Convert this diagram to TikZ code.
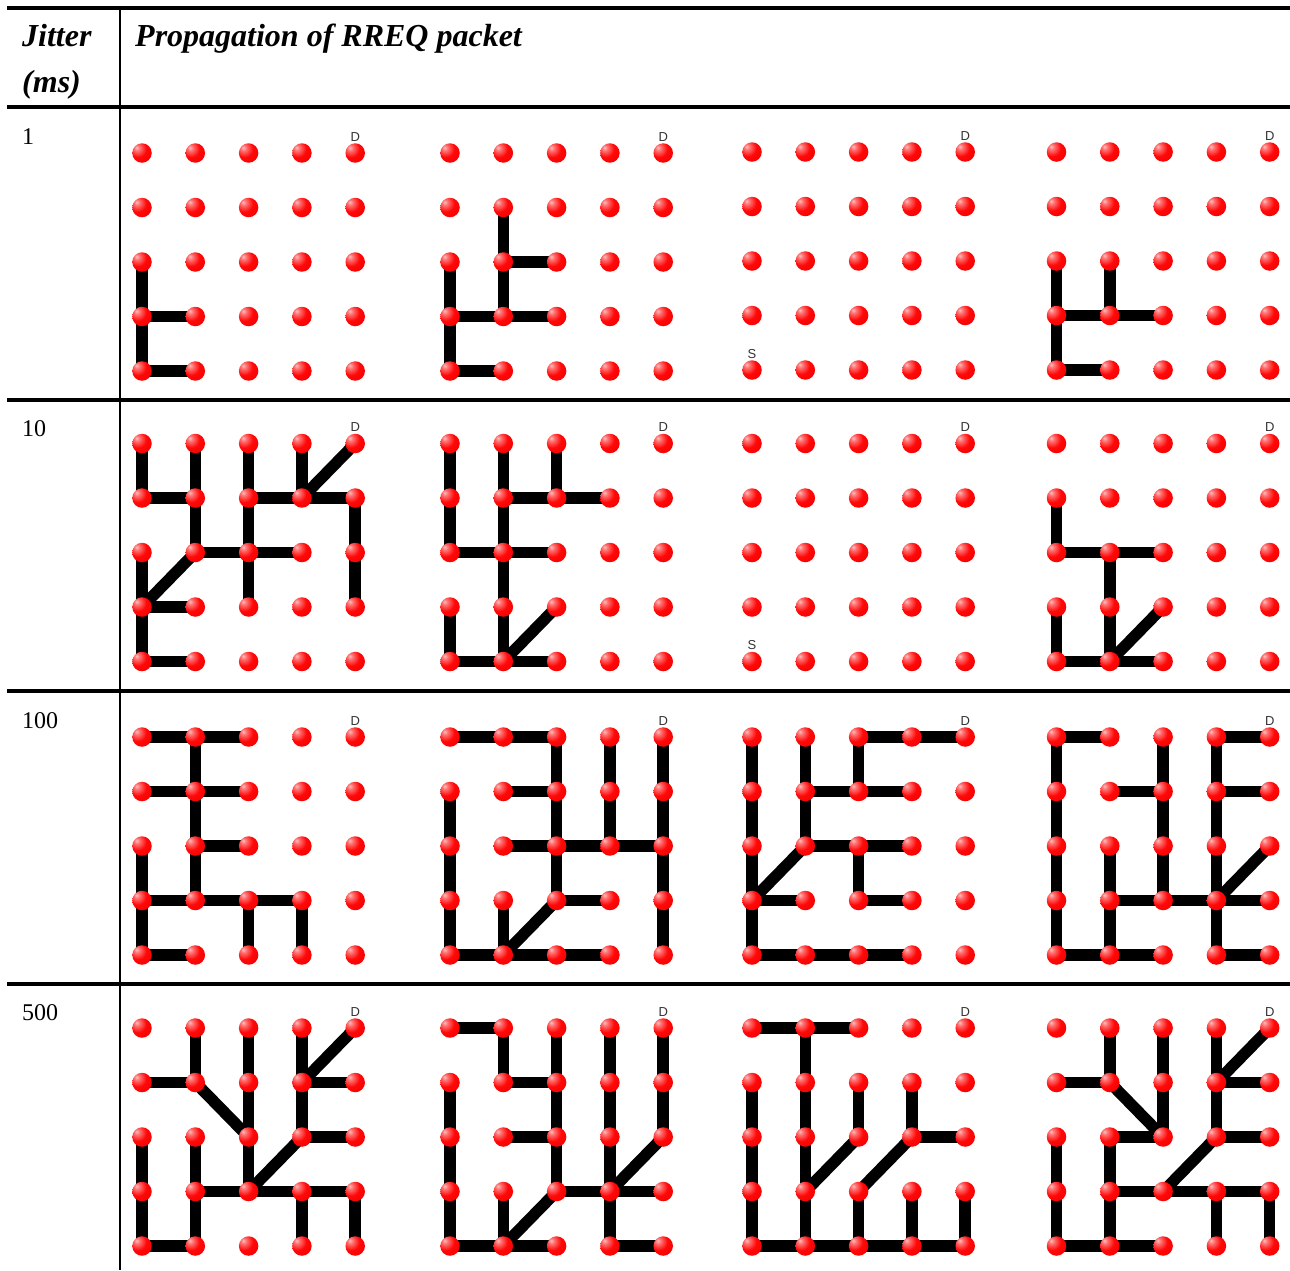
\documentclass[tikz,border=0pt]{standalone}
\usepackage{fontspec}
\setmainfont{Liberation Serif}
\newfontfamily\lsans{Liberation Sans}
\pgfdeclarelayer{bg}
\pgfsetlayers{bg,main}
\pgfdeclareradialshading{redball}{\pgfpoint{-14bp}{14bp}}{%
  color(0bp)=(white!75!red); color(7bp)=(red!55!white); color(22bp)=(red!97!white);
  color(50bp)=(red!92!black); color(62bp)=(red!80!black); color(100bp)=(red!80!black)}
\tikzset{
  ball/.style={circle,inner sep=0pt,minimum size=19.5pt,shading=redball},
  edge/.style={line width=11.5pt,black},
  rule/.style={line width=3.5pt,black},
  lbl/.style={font=\lsans\fontsize{13}{13}\selectfont,text=black!80,inner sep=0pt},
  hdr/.style={font=\fontsize{32}{32}\selectfont\bfseries\itshape,anchor=base west,inner sep=0pt},
  rowlbl/.style={font=\fontsize{24}{24}\selectfont,anchor=base west,inner sep=0pt}
}
\newcommand\gridpanel[3]{%
  \foreach \gc in {0,...,4}{\foreach \gr in {0,...,4}{
    \node[ball] (#1-\gc-\gr) at ({#2+\gc*53.3},{#3+\gr*54.5}) {};}}
  \node[lbl] (#1-D) at ($(#1-4-0)+(0,-16)$) {D};
}
\newcommand\gridedges[2]{%
  \begin{pgfonlayer}{bg}
  \foreach \ea/\eb in {#2}{\draw[edge] (#1-\ea.center) -- (#1-\eb.center);}
  \end{pgfonlayer}
}
\usetikzlibrary{calc}
\begin{document}
\begin{tikzpicture}[x=1pt,y=-1pt]
\useasboundingbox (0,0) rectangle (1290,1270);
% table rules
\coordinate (tl) at (7,8); \coordinate (tr) at (1290,8);
\coordinate (hl) at (7,107); \coordinate (hr) at (1290,107);
\coordinate (r1l) at (7,400); \coordinate (r1r) at (1290,400);
\coordinate (r2l) at (7,691); \coordinate (r2r) at (1290,691);
\coordinate (r3l) at (7,984); \coordinate (r3r) at (1290,984);
\coordinate (vt) at (120,8); \coordinate (vb) at (120,1270);
\draw[rule] (tl) -- (tr);
\draw[rule,line width=4pt] (hl) -- (hr);
\draw[rule] (r1l) -- (r1r);
\draw[rule] (r2l) -- (r2r);
\draw[rule] (r3l) -- (r3r);
\draw[line width=2pt] (vt) -- (vb);
% header
\node[hdr] (h1) at (22,46) {Jitter};
\node[hdr] (h2) at (22,92) {(ms)};
\node[hdr] (h3) at (135,46) {Propagation of RREQ packet};
\node[rowlbl] (l1) at (22,144) {1};
\node[rowlbl] (l2) at (22,436) {10};
\node[rowlbl] (l3) at (22,728) {100};
\node[rowlbl] (l4) at (22,1020) {500};
% row 1
\gridpanel{a1}{142}{153}
\gridpanel{a2}{450}{153}
\gridpanel{a3}{752}{152}
\gridpanel{a4}{1056.5}{152}
\node[lbl] (a3-S) at ($(a3-0-4)+(0,-16)$) {S};
\gridedges{a1}{0-2/0-3, 0-3/0-4, 0-3/1-3, 0-4/1-4}
\gridedges{a2}{1-1/1-2, 1-2/2-2, 1-2/1-3, 0-2/0-3, 0-3/1-3, 1-3/2-3, 0-3/0-4, 0-4/1-4}
\gridedges{a4}{0-2/0-3, 0-3/0-4, 1-2/1-3, 0-3/1-3, 1-3/2-3, 0-4/1-4}
% row 2
\gridpanel{b1}{142}{443.5}
\gridpanel{b2}{450}{443.5}
\gridpanel{b3}{752}{443.5}
\gridpanel{b4}{1056.5}{443.5}
\node[lbl] (b3-S) at ($(b3-0-4)+(0,-16)$) {S};
\gridedges{b1}{0-0/0-1, 0-1/1-1, 1-0/1-1, 1-1/1-2, 2-0/2-1, 2-1/3-1, 3-0/3-1, 3-1/4-0, 3-1/4-1, 4-1/4-2, 4-2/4-3, 2-1/2-2, 1-2/2-2, 2-2/3-2, 2-2/2-3, 1-2/0-3, 0-2/0-3, 0-3/1-3, 0-3/0-4, 0-4/1-4}
\gridedges{b2}{0-0/0-1, 0-1/0-2, 1-0/1-1, 1-1/1-2, 1-2/1-3, 1-3/1-4, 2-0/2-1, 1-1/2-1, 2-1/3-1, 0-2/1-2, 1-2/2-2, 0-3/0-4, 0-4/1-4, 1-4/2-4, 1-4/2-3}
\gridedges{b4}{0-1/0-2, 0-2/1-2, 1-2/2-2, 1-2/1-3, 1-3/1-4, 1-4/2-3, 0-3/0-4, 0-4/1-4, 1-4/2-4}
% row 3
\gridpanel{c1}{142}{737}
\gridpanel{c2}{450}{737}
\gridpanel{c3}{752}{737}
\gridpanel{c4}{1056.5}{737}
\gridedges{c1}{0-0/1-0, 1-0/2-0, 1-0/1-1, 1-1/1-2, 1-2/1-3, 0-1/1-1, 1-1/2-1, 1-2/2-2, 0-2/0-3, 0-3/1-3, 1-3/2-3, 2-3/3-3, 0-3/0-4, 0-4/1-4, 2-3/2-4, 3-3/3-4}
\gridedges{c2}{0-0/1-0, 1-0/2-0, 2-0/2-1, 2-1/2-2, 2-2/2-3, 1-1/2-1, 3-0/3-1, 3-1/3-2, 4-0/4-1, 4-1/4-2, 4-2/4-3, 4-3/4-4, 1-2/2-2, 2-2/3-2, 3-2/4-2, 0-1/0-2, 0-2/0-3, 0-3/0-4, 2-3/3-3, 2-3/1-4, 1-3/1-4, 0-4/1-4, 1-4/2-4, 2-4/3-4}
\gridedges{c3}{0-0/0-1, 0-1/0-2, 0-2/0-3, 0-3/0-4, 1-0/1-1, 1-1/1-2, 2-0/3-0, 3-0/4-0, 2-0/2-1, 1-1/2-1, 2-1/3-1, 1-2/2-2, 2-2/3-2, 1-2/0-3, 2-2/2-3, 2-3/3-3, 0-3/1-3, 0-4/1-4, 1-4/2-4, 2-4/3-4}
\gridedges{c4}{0-0/1-0, 0-0/0-1, 0-1/0-2, 0-2/0-3, 0-3/0-4, 1-1/2-1, 2-0/2-1, 2-1/2-2, 2-2/2-3, 3-0/4-0, 3-0/3-1, 3-1/3-2, 3-2/3-3, 3-3/3-4, 3-1/4-1, 3-3/4-2, 1-2/1-3, 1-3/1-4, 1-3/2-3, 2-3/3-3, 3-3/4-3, 0-4/1-4, 1-4/2-4, 3-4/4-4}
% row 4
\gridpanel{d1}{142}{1028}
\gridpanel{d2}{450}{1028}
\gridpanel{d3}{752}{1028}
\gridpanel{d4}{1056.5}{1028}
\gridedges{d1}{1-0/1-1, 0-1/1-1, 1-1/2-2, 2-0/2-1, 2-1/2-2, 2-2/2-3, 3-0/3-1, 3-1/4-0, 3-1/4-1, 3-1/3-2, 3-2/4-2, 3-2/2-3, 0-2/0-3, 0-3/0-4, 0-4/1-4, 1-2/1-3, 1-3/1-4, 1-3/2-3, 2-3/3-3, 3-3/4-3, 3-3/3-4, 4-3/4-4}
\gridedges{d2}{0-0/1-0, 1-0/1-1, 1-1/2-1, 2-0/2-1, 2-1/2-2, 2-2/2-3, 1-2/2-2, 3-0/3-1, 3-1/3-2, 3-2/3-3, 3-3/3-4, 4-0/4-1, 4-1/4-2, 4-2/3-3, 2-3/3-3, 3-3/4-3, 2-3/1-4, 1-3/1-4, 0-1/0-2, 0-2/0-3, 0-3/0-4, 0-4/1-4, 1-4/2-4, 3-4/4-4}
\gridedges{d3}{0-0/1-0, 1-0/2-0, 1-0/1-1, 1-1/1-2, 1-2/1-3, 1-3/1-4, 0-1/0-2, 0-2/0-3, 0-3/0-4, 2-1/2-2, 2-2/1-3, 3-1/3-2, 3-2/4-2, 3-2/2-3, 2-3/2-4, 3-3/3-4, 4-3/4-4, 0-4/1-4, 1-4/2-4, 2-4/3-4, 3-4/4-4}
\gridedges{d4}{1-0/1-1, 0-1/1-1, 1-1/2-2, 2-0/2-1, 2-1/2-2, 1-2/2-2, 3-0/3-1, 3-1/4-0, 3-1/4-1, 3-1/3-2, 3-2/4-2, 3-2/2-3, 1-2/1-3, 1-3/1-4, 0-2/0-3, 0-3/0-4, 1-3/2-3, 2-3/3-3, 3-3/4-3, 3-3/3-4, 4-3/4-4, 0-4/1-4, 1-4/2-4}
\end{tikzpicture}
\end{document}
